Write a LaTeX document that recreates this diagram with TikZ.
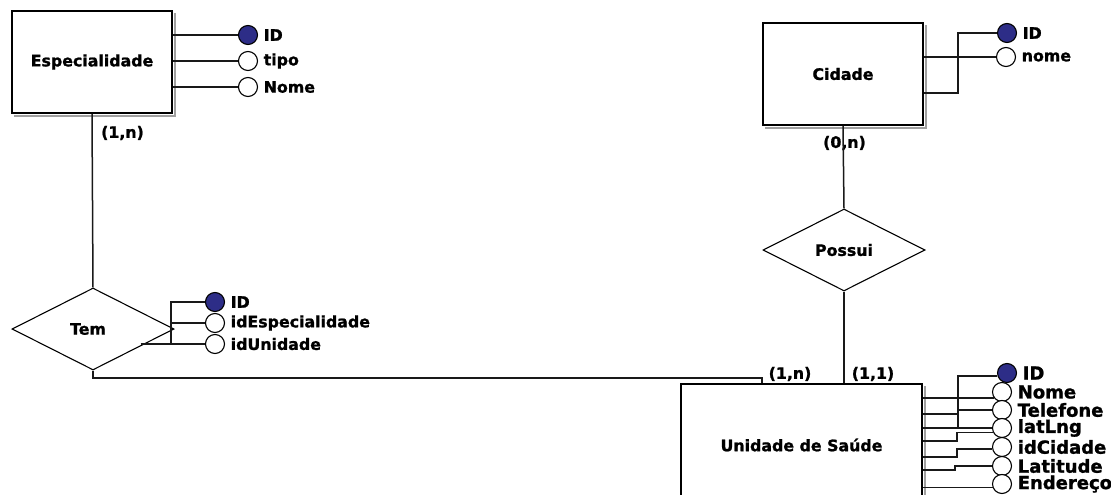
\documentclass[tikz,border=0pt]{standalone}
\usepackage{fontspec}
\setmainfont{DejaVu Sans}[BoldFeatures={FakeBold=1.2}]
\usetikzlibrary{shapes.geometric}
\definecolor{keyblue}{RGB}{45,45,135}
\definecolor{shadegray}{RGB}{160,160,160}
\newcommand\erfont{\fontsize{15.8}{18}\selectfont\bfseries}
\newcommand\uattrfont{\fontsize{18}{20}\selectfont\bfseries}
\tikzset{
  wire/.style={line width=1.5pt, draw=black!90},
  entity/.style={draw, line width=1.6pt, fill=white, minimum width=160pt,
    minimum height=102pt, inner sep=0pt, font=\erfont},
  shadowline/.style={draw=shadegray, line width=2pt},
  relation/.style={diamond, draw, line width=1.1pt, fill=white,
    minimum width=162pt, minimum height=82pt, inner sep=0pt, font=\erfont},
  attr/.style={circle, draw, line width=1.1pt, fill=white, minimum size=19pt, inner sep=0pt},
  keyattr/.style={attr, fill=keyblue},
  attrtext/.style={font=\erfont, inner sep=0pt},
  uattrtext/.style={font=\uattrfont, inner sep=0pt},
  card/.style={font=\erfont, inner sep=0pt},
  label distance=5.5pt
}
\begin{document}
\begin{tikzpicture}[x=1pt,y=-1pt]
\useasboundingbox[fill=white] (0,0) rectangle (1111,495);

% entities with a grey drop edge on the right and bottom
\node[entity] (esp) at (92,62) {Especialidade};
\node[entity] (cid) at (843,74) {Cidade};
\node[entity, minimum width=241pt, minimum height=122pt] (uni) at (801.5,445) {Unidade de Saúde};
\foreach \e in {esp,cid,uni}{
  \draw[shadowline] ([xshift=2.4pt,yshift=-3pt]\e.north east) -- ([xshift=2.4pt,yshift=-2.4pt]\e.south east)
    -- ([xshift=3pt,yshift=-2.4pt]\e.south west);
}

% relationships
\node[relation] (tem) at (93,329) {\hspace*{-10pt}Tem};
\node[relation] (pos) at (844,250) {Possui};

% attributes of Especialidade
\node[keyattr, label={[attrtext]right:ID}] (eID) at (248,35) {};
\node[attr, label={[attrtext]right:tipo}] (eTipo) at (248,61) {};
\node[attr, label={[attrtext]right:Nome}] (eNome) at (248,87) {};

% attributes of Cidade
\node[keyattr, label={[attrtext]right:ID}] (cID) at (1007,33) {};
\node[attr, label={[attrtext]right:nome}] (cNome) at (1006,57) {};

% attributes of Tem
\node[keyattr, label={[attrtext]right:ID}] (tID) at (215,302) {};
\node[attr, label={[attrtext]right:idEspecialidade}] (tEsp) at (215,323) {};
\node[attr, label={[attrtext]right:idUnidade}] (tUni) at (215,344) {};

% attributes of Unidade de Saude
\node[keyattr, label={[uattrtext]right:ID}] (uID) at (1007,373) {};
\node[attr, label={[uattrtext]right:Nome}] (uNome) at (1002,392) {};
\node[attr, label={[uattrtext]right:Telefone}] (uTel) at (1002,410) {};
\node[attr, label={[uattrtext]right:latLng}] (uLat) at (1002,428) {};
\node[attr, label={[uattrtext]right:idCidade}] (uCid) at (1002,447) {};
\node[attr, label={[uattrtext]right:Latitude}] (uLati) at (1002,466) {};
\node[attr, label={[uattrtext]right:Endereço}] (uEnd) at (1002,484) {};

% cardinalities
\node[card] (k1) at (122.5,133) {(1,n)};
\node[card] (k2) at (844.5,143) {(0,n)};
\node[card] (k3) at (790,374) {(1,n)};
\node[card] (k4) at (873,374) {(1,1)};

% relationship lines
\coordinate (tbend) at (762,378);
\draw[wire] (esp.south) -- (tem.north);
\draw[wire] (tem.south) |- (tbend) -- (tbend |- uni.north);
\draw[wire] (cid.south) -- (pos.north);
\draw[wire] (pos.south) -- (pos.south |- uni.north);

% Especialidade attribute lines
\draw[wire] (esp.east |- eID) -- (eID);
\draw[wire] (esp.east |- eTipo) -- (eTipo);
\draw[wire] (esp.east |- eNome) -- (eNome);

% Cidade attribute lines
\coordinate (cj) at (958,93);
\draw[wire] (cid.east |- cNome) -- (cNome);
\draw[wire] (cid.east |- cj) -- (cj) |- (cID.west);

% Tem attribute lines
\coordinate (tj) at (171,344);
\draw[wire] (tID.west) -| (tj);
\draw[wire] (tEsp.west -| tj) -- (tEsp.west);
\draw[wire] (tem.-20 |- tUni.west) -- (tUni.west);

% Unidade de Saude attribute lines
\coordinate (ucol) at (958,428);
\coordinate (ut) at (958,414);
\coordinate (ul) at (957,441);
\coordinate (uci) at (957,457);
\coordinate (ula) at (955,470);
\draw[wire] (uID.-163) -| (ucol);
\draw[wire] (uni.east |- uNome.-145) -- (uNome.-145);
\draw[wire] (uni.east |- ut) -- (ut);
\draw[wire] (uTel.west -| ucol) -- (uTel.west);
\draw[wire] (uni.east |- uLat.west) -- (uLat.west);
\draw[wire] (uni.east |- ul) -- (ul) |- (uLat.-155);
\draw[wire] (uni.east |- uci) -- (uci) |- (uCid.-168);
\draw[wire] (uni.east |- ula) -- (ula) |- (uLati.west);
\draw[wire] (uni.east |- uEnd.-160) -- (uEnd.-160);
\end{tikzpicture}
\end{document}
